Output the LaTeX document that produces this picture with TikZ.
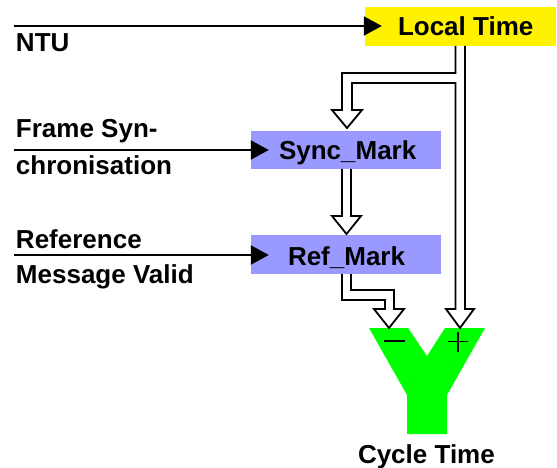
\documentclass[tikz,border=0pt]{standalone}
\usepackage{fontspec}
\setmainfont{Liberation Sans}
\usetikzlibrary{arrows.meta}
\definecolor{boxblue}{HTML}{9999FF}
\definecolor{ygreen}{HTML}{00FF00}
\begin{document}
\begin{tikzpicture}[x=1pt,y=-1pt,
  lbl/.style={inner sep=0pt,outer sep=0pt,font=\fontsize{26}{30}\selectfont\bfseries,anchor=base west},
  ltbox/.style={fill=yellow,draw=none,inner sep=0pt,minimum width=191pt,minimum height=39pt},
  mbox/.style={fill=boxblue,draw=none,inner sep=0pt,minimum width=190pt,minimum height=38.5pt},
  inarrow/.style={line width=2.2pt,-{Triangle[length=18pt,width=19pt]}},
  hollow/.style={draw=black,fill=white,line width=1.8pt,line join=miter},
  sign/.style={line width=1.6pt}]
\useasboundingbox (0,0) rectangle (557,468);
% boxes
\node[ltbox] (lt) at (460.5,26.5) {};
\node[mbox] (sm) at (346,150) {};
\node[mbox] (rm) at (346,254.5) {};
\node[lbl] (ltt) at (398,36) {Local Time};
\node[lbl] (smt) at (279,160) {Sync\_Mark};
\node[lbl] (rmt) at (288,265) {Ref\_Mark};
% input labels
\node[lbl] (ntu) at (16,52) {NTU};
\node[lbl] (fs1) at (16,138) {Frame Syn-};
\node[lbl] (fs2) at (16,175) {chronisation};
\node[lbl] (rv1) at (16,248) {Reference};
\node[lbl] (rv2) at (16,283) {Message Valid};
% input arrows
\coordinate (ntuin) at (14,26);
\coordinate (fsin) at (14,150);
\coordinate (rvin) at (14,255);
\draw[inarrow] (ntuin) -- ([xshift=17pt]lt.west |- ntuin);
\draw[inarrow] (fsin) -- ([xshift=18pt]sm.west |- fsin);
\draw[inarrow] (rvin) -- ([xshift=18pt]rm.west |- rvin);
% Y adder
\fill[ygreen] (369,328) -- (408,328) -- (427,356) -- (445,328) -- (485,328)
  -- (447,395) -- (447,434) -- (407,434) -- (407,395) -- cycle;
\draw[sign] (384,341) -- (405,341);
\draw[sign] (448,341.5) -- (468,341.5);
\draw[sign] (458,332) -- (458,352);
\node[lbl] (ct) at (358,463) {Cycle Time};
% hollow arrows
\draw[hollow] (465,46) -- (465,309) -- (474,309) -- (460,328) -- (446,309) -- (455.5,309)
  -- (455.5,83) -- (352,83) -- (352,110) -- (362,110) -- (347,128) -- (332,110)
  -- (342,110) -- (342,73) -- (455.5,73) -- (455.5,46);
\draw[hollow] (342,169) -- (342,216) -- (332,216) -- (346.5,234) -- (361,216)
  -- (351,216) -- (351,169);
\draw[hollow] (342,274) -- (342,300) -- (385,300) -- (385,309) -- (374,309)
  -- (389,328) -- (404,309) -- (394,309) -- (394,290) -- (351,290) -- (351,274);
\end{tikzpicture}
\end{document}
